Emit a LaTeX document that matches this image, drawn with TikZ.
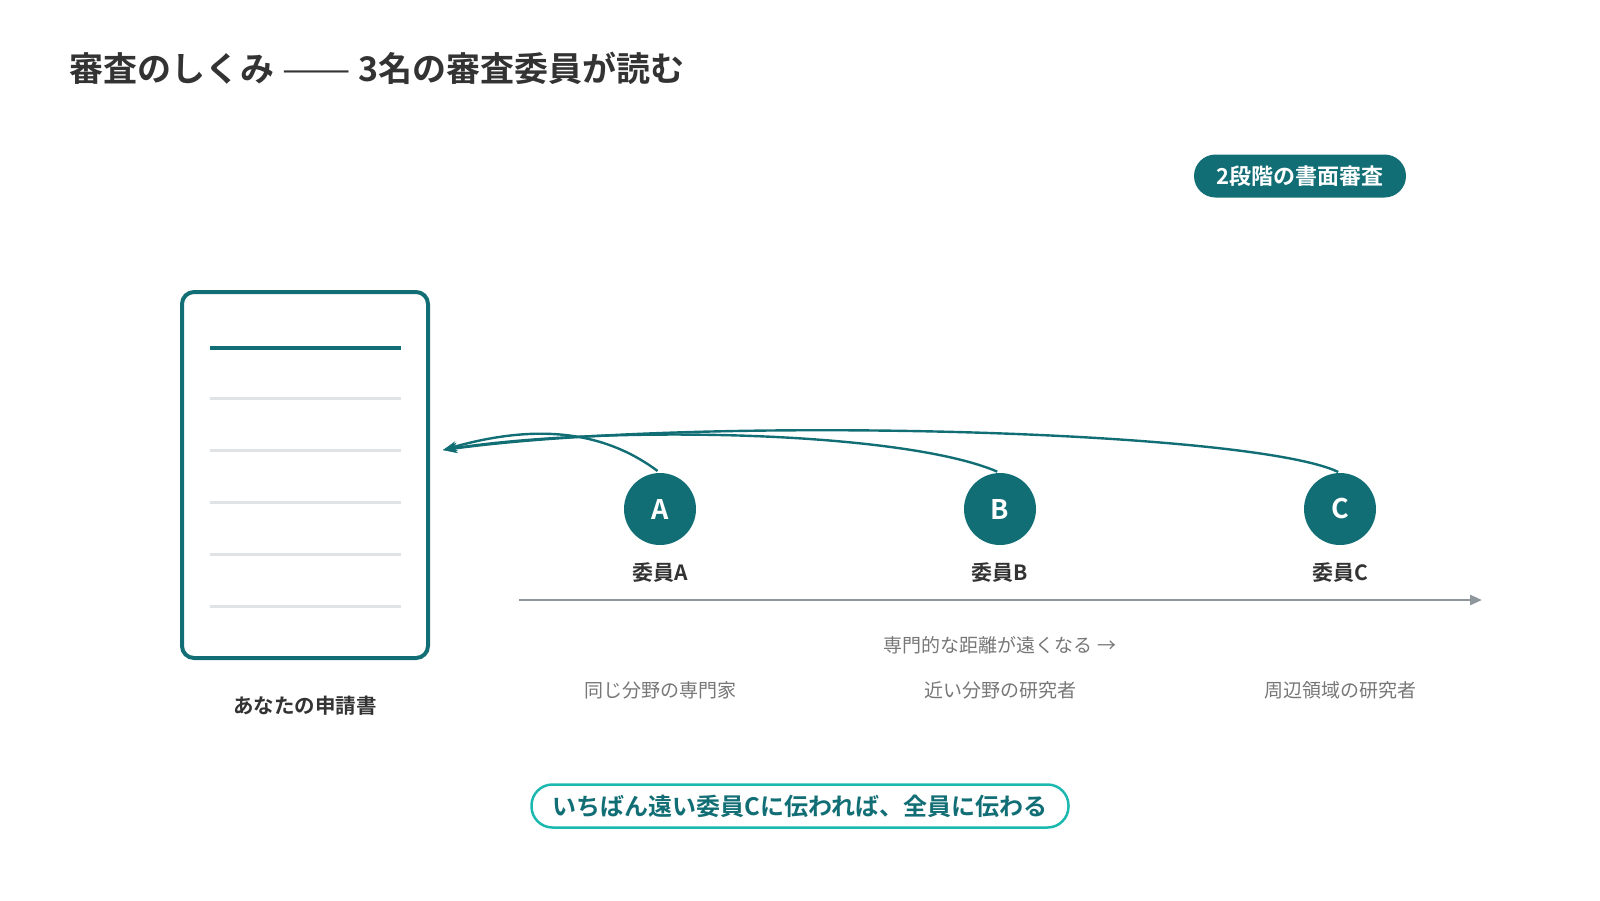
\documentclass[tikz,border=0pt]{standalone}
\usepackage{fontspec}
\setmainfont{Noto Sans CJK JP}[BoldFont={Noto Sans CJK JP Bold}]
\usepackage{tikz}
\usetikzlibrary{arrows.meta, positioning}
\definecolor{tealdark}{HTML}{126E75}
\definecolor{tealbright}{HTML}{1BB8B0}
\definecolor{inkdark}{HTML}{333333}
\definecolor{inkgray}{HTML}{777777}
\definecolor{axisgray}{HTML}{8D979B}
\definecolor{rulegray}{HTML}{E0E3E6}
\newcommand{\fsz}[1]{\fontsize{#1}{#1}\selectfont}

\begin{document}
\begin{tikzpicture}[x=1pt,y=-1pt,
  reviewer/.style={circle,fill=tealdark,minimum size=72pt,inner sep=0pt,text=white,font=\bfseries\fsz{27}},
  revlabel/.style={inner sep=0pt,text=inkdark,font=\bfseries\fsz{21}},
  fieldlabel/.style={inner sep=0pt,text=inkgray,font=\fsz{19}},
  readarrow/.style={draw=tealdark,line width=2.4pt,-{Stealth[length=14pt,width=10pt]}}]
\useasboundingbox (0,0) rectangle (1600,900);
% \draw[densely dotted] (0,0) grid[step=100] (1600,900);
\node[anchor=west,inner sep=0pt,text=inkdark,font=\bfseries\fsz{34}] (title) at (69,68) {審査のしくみ {\mdseries\scalebox{1.2}[1]{——}} 3名の審査委員が読む};
\node[fill=tealdark,rounded corners=21.5pt,minimum width=212pt,minimum height=43pt,inner sep=0pt,text=white,font=\bfseries\fsz{22}] (stage) at (1300,176) {2段階の書面審査};

% the application
\node[draw=tealdark,line width=4pt,rounded corners=12pt,minimum width=246pt,minimum height=366pt] (doc) at (305,475) {};
\draw[tealdark,line width=4pt] (210,348) -- (401,348);
\foreach \y in {398,450,502,554,606}
  \draw[rulegray,line width=3pt] (210,\y) -- (401,\y);
\node[revlabel,font=\bfseries\fsz{20.5}] (doclabel) at (305,706) {あなたの申請書};
\coordinate (docin) at (443,450);

% reviewers
\foreach \id/\x/\who/\what in {A/660/委員A/同じ分野の専門家,B/1000/委員B/近い分野の研究者,C/1340/委員C/周辺領域の研究者} {
  \node[reviewer] (\id) at (\x,509) {\id};
  \node[revlabel] (who\id) at (\x,573) {\who};
  \node[fieldlabel] (field\id) at (\x,690) {\what};
}
\draw[readarrow,shorten <=3pt] (A.north) .. controls (600,428) and (530,425) .. (docin);
\draw[readarrow,shorten <=3pt] (B.north) .. controls (900,430) and (600,425) .. (docin);
\draw[readarrow,shorten <=2pt] (C.north) .. controls (1250,430) and (700,415) .. (docin);

% distance axis
\coordinate (axL) at (519,600);
\coordinate (axR) at (1482,600);
\draw[axisgray,line width=2.5pt,-{Triangle[length=12pt,width=10pt]}] (axL) -- (axR);
\node[fieldlabel,font=\fsz{19}] (distance) at (1000,645) {専門的な距離が遠くなる →};

\node[draw=tealbright,fill=white,line width=2.5pt,rounded corners=21pt,minimum width=537pt,minimum height=43pt,inner sep=0pt,text=tealdark,font=\bfseries\fsz{24}] (message) at (800,806) {いちばん遠い委員Cに伝われば、全員に伝わる};
\end{tikzpicture}
\end{document}
